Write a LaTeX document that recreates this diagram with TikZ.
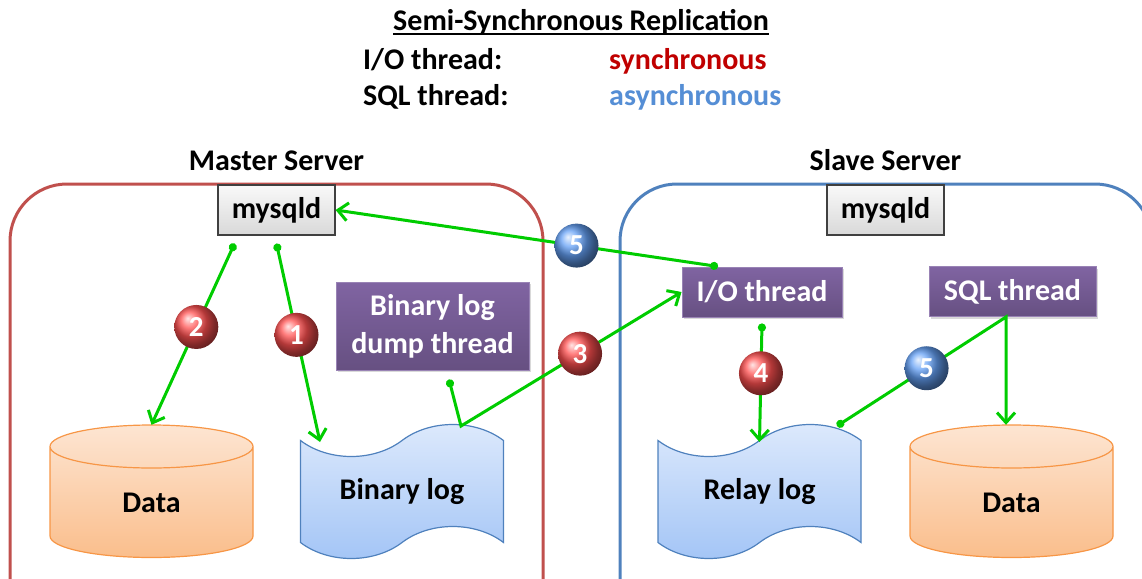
\documentclass[tikz,border=0pt]{standalone}
\usepackage{fontspec}
\setmainfont{Carlito}
\usepackage{tikz}
\usetikzlibrary{positioning,arrows.meta,shapes.symbols,shadows,calc}
\definecolor{masterred}{RGB}{192,80,77}
\definecolor{slaveblue}{RGB}{79,129,189}
\definecolor{flowgreen}{RGB}{0,204,0}
\definecolor{syncred}{RGB}{192,0,0}
\definecolor{asyncblue}{RGB}{85,142,213}
\definecolor{threadpurple}{RGB}{128,100,162}
\definecolor{diskorange}{RGB}{247,150,70}
\definecolor{disktop}{RGB}{253,229,210}
\definecolor{diskbottom}{RGB}{250,190,140}
\definecolor{tapetop}{RGB}{222,234,252}
\definecolor{tapebottom}{RGB}{162,196,246}
\definecolor{ballred}{RGB}{255,80,80}
\definecolor{ballblue}{RGB}{100,160,245}
\tikzset{
  big/.style={font=\fontsize{30}{38}\selectfont\bfseries},
  server/.style={line width=3pt, rounded corners=57pt},
  procbox/.style={big, draw=black!75, line width=1.2pt, top color=gray!5,
                  bottom color=gray!30, minimum width=117pt, minimum height=50pt, inner sep=0pt},
  threadbox/.style={big, text=white, draw=threadpurple!80!white, line width=1pt,
                    top color=threadpurple, bottom color=threadpurple!80!black,
                    minimum height=50pt, inner sep=0pt, align=center,
                    drop shadow={shadow xshift=2pt, shadow yshift=-2pt, opacity=0.3}},
  % cylinder body, drawn round a plain text node
  disk/.pic={
    \shade[top color=disktop, bottom color=diskbottom]
      (-101.5,-45) -- (-101.5,44.5) arc[start angle=180, end angle=0, x radius=101.5, y radius=21.5]
      -- (101.5,-45) arc[start angle=0, end angle=-180, x radius=101.5, y radius=21.5] -- cycle;
    \draw[diskorange, line width=1.2pt]
      (-101.5,-45) -- (-101.5,44.5) arc[start angle=180, end angle=0, x radius=101.5, y radius=21.5]
      -- (101.5,-45) arc[start angle=0, end angle=-180, x radius=101.5, y radius=21.5]
      arc[start angle=180, end angle=0, x radius=101.5, y radius=21.5];
  },
  disklabel/.style={big, minimum width=203pt, minimum height=133pt, inner sep=0pt,
                    text height=42pt, text depth=0pt},
  logtape/.style={big, tape, draw=slaveblue, line width=1.2pt, top color=tapetop,
                  bottom color=tapebottom, minimum width=203pt, minimum height=134pt,
                  tape bend height=32pt},
  flow/.style={flowgreen, line width=3pt,
               {Circle[length=8pt]}-{Straight Barb[length=10pt,width=18pt]}},
  ball/.style={circle, minimum size=44pt, inner sep=0pt, text=white,
               font=\fontsize{29}{30}\selectfont\bfseries},
  redball/.style={ball, shading=ball, ball color=ballred},
  blueball/.style={ball, shading=ball, ball color=ballblue},
}

\begin{document}
\begin{tikzpicture}[x=1pt, y=-1pt]
  \clip (0,0) rectangle (1142,578);

  % heading
  \node[big, inner sep=0pt, anchor=base] (title) at (581,31) {Semi-Synchronous Replication};
  \draw[line width=2pt] ([yshift=-3pt]title.base west) -- ([yshift=-3pt]title.base east);
  \node[big, inner sep=0pt, anchor=base west] (iolabel) at (363,70) {I/O thread:};
  \node[big, inner sep=0pt, anchor=base west, text=syncred] (iomode) at (609,70) {synchronous};
  \node[big, inner sep=0pt, anchor=base west] (sqllabel) at (363,105) {SQL thread:};
  \node[big, inner sep=0pt, anchor=base west, text=asyncblue] (sqlmode) at (609,105) {asynchronous};

  % servers
  \draw[server, masterred] (10,184) rectangle (543,640);
  \draw[server, slaveblue] (620,184) rectangle (1152,640);
  \node[big, inner sep=0pt, anchor=base] (mlabel) at (276.5,170) {Master Server};
  \node[big, inner sep=0pt, anchor=base] (slabel) at (885.5,170) {Slave Server};

  % master side
  \node[procbox] (mm) at (276.5,210) {mysqld};
  \node[threadbox, minimum width=193pt, minimum height=88pt] (dump) at (432.5,326) {Binary log\\dump thread};
  \pic at (151.5,491.5) {disk};
  \node[disklabel] (mdata) at (151.5,491.5) {Data};
  \node[logtape] (binlog) at (402,491.5) {Binary log};

  % slave side
  \node[procbox] (sm) at (885.5,210) {mysqld};
  \node[threadbox, minimum width=160pt] (io) at (762,292) {I/O thread};
  \node[threadbox, minimum width=167pt] (sql) at (1012.5,291.5) {SQL thread};
  \node[logtape] (relay) at (759.5,491.5) {Relay log};
  \pic at (1011.5,491.5) {disk};
  \node[disklabel] (sdata) at (1011.5,491.5) {Data};

  % flows
  \draw[flow] ([xshift=-42pt,yshift=-8pt]mm.south) -- node[redball, pos=0.46] {2} (mdata.north);
  \draw[flow] ([yshift=-8pt]mm.south) -- node[redball, pos=0.46] {1} ([xshift=-82pt,yshift=49.5pt]binlog.center);
  \draw[flow] ([xshift=16.5pt,yshift=-9pt]dump.south) -- ([xshift=59pt,yshift=65.5pt]binlog.center)
    -- node[redball, pos=0.54] {3} (io.west);
  \draw[flow] ([xshift=-44pt]io.north) -- node[blueball, pos=0.37] {5} (mm.east);
  \draw[flow] ([yshift=-6pt]io.south) -- node[redball, pos=0.42] {4} ([yshift=49.5pt]relay.center);
  \draw[flow] ([xshift=77.5pt,yshift=65.5pt]relay.center) -- node[blueball, pos=0.53] {5} ([xshift=-6.5pt]sql.south)
    -- ([xshift=-6.5pt]sql.south |- sdata.north);
\end{tikzpicture}
\end{document}
